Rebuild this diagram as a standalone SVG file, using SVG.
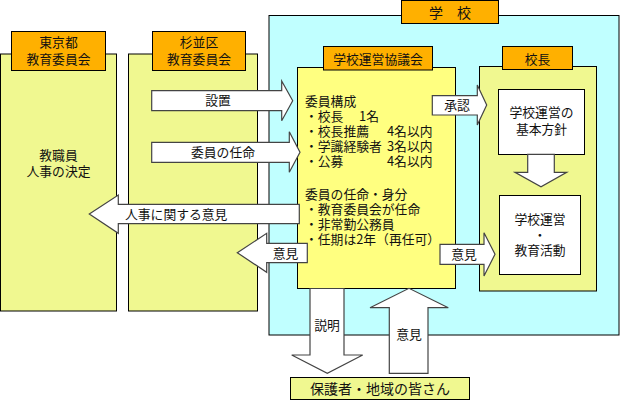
<svg xmlns="http://www.w3.org/2000/svg" width="620" height="400" viewBox="0 0 620 400">
<style>
text{font-family:"Noto Sans CJK JP","Noto Sans CJK SC",sans-serif;font-size:12.8px;fill:#111}
.c{text-anchor:middle}
.lbl{fill:#FFB000;stroke:#000;stroke-width:1}
.pnl{fill:#F0F890;stroke:#000;stroke-width:1}
.wht{fill:#fff;stroke:#000;stroke-width:1}
.arr{fill:#fff;stroke:#444;stroke-width:1.2;stroke-linejoin:miter}
</style>
<rect x="0" y="0" width="620" height="400" fill="#fff"/>
<g id="tokyo">
<rect class="pnl" x="0.5" y="54" width="116" height="257"/>
<rect class="lbl" x="11.5" y="31.5" width="94" height="39"/>
<text class="c" x="58.5" y="47">東京都</text>
<text class="c" x="58.5" y="64">教育委員会</text>
<text class="c" x="58.5" y="160">教職員</text>
<text class="c" x="58.5" y="176">人事の決定</text>
</g>
<g id="suginami">
<rect class="pnl" x="128.5" y="54" width="129" height="257"/>
<rect class="lbl" x="152.5" y="31.5" width="93" height="39"/>
<text class="c" x="199" y="47">杉並区</text>
<text class="c" x="199" y="64">教育委員会</text>
</g>
<g id="school">
<rect x="269" y="15.5" width="350" height="319.5" fill="#C0FFFF" stroke="#000"/>
<rect class="lbl" x="401.5" y="0.5" width="97" height="23"/>
<text class="c" x="450" y="18" style="font-size:14px">学　校</text>
</g>
<g id="council">
<rect x="297.5" y="67.5" width="158" height="221" fill="#FFFF80" stroke="#000"/>
<rect class="lbl" x="323.5" y="46.5" width="109" height="23.5"/>
<text class="c" x="378" y="63.5">学校運営協議会</text>
<text x="305" y="106">委員構成</text>
<text x="305" y="121">・校長　 1名</text>
<text x="305" y="136">・校長推薦</text>
<text x="305" y="151">・学識経験者</text>
<text x="305" y="166">・公募</text>
<text x="387" y="136">4名以内</text>
<text x="387" y="151">3名以内</text>
<text x="387" y="166">4名以内</text>
<text x="305" y="199">委員の任命・身分</text>
<text x="305" y="214">・教育委員会が任命</text>
<text x="305" y="229">・非常勤公務員</text>
<text x="305" y="244">・任期は2年（再任可）</text>
</g>
<g id="principal">
<rect class="pnl" x="479.5" y="66.5" width="117" height="224.5"/>
<rect class="lbl" x="502.5" y="46.5" width="70" height="23"/>
<text class="c" x="537.5" y="63.5">校長</text>
</g>
<g id="policy">
<rect class="wht" x="498.5" y="89.5" width="86" height="65"/>
<text class="c" x="541.5" y="117">学校運営の</text>
<text class="c" x="541.5" y="133.5">基本方針</text>
</g>
<g id="activity">
<rect class="wht" x="499.5" y="195.5" width="81" height="79"/>
<text class="c" x="540" y="224">学校運営</text>
<text class="c" x="540" y="240">・</text>
<text class="c" x="540" y="255">教育活動</text>
</g>
<g id="guardians">
<rect class="pnl" x="290.5" y="377.5" width="179" height="22"/>
<text class="c" x="380" y="394" style="font-size:14px">保護者・地域の皆さん</text>
</g>
<g id="connectors">
<polygon class="arr" points="151.7,90.7 281.7,90.7 281.7,81 292.7,100.7 281.7,120.7 281.7,110.7 151.7,110.7"/>
<text class="c" x="218" y="105">設置</text>
<polygon class="arr" points="151.7,142.3 289.3,142.3 289.3,131.7 300,152.3 289.3,172.3 289.3,162.3 151.7,162.3"/>
<text class="c" x="223" y="157">委員の任命</text>
<polygon class="arr" points="299.3,204.3 118.3,204.3 118.3,195 89.3,214 118.3,233.3 118.3,223.7 299.3,223.7"/>
<text x="125" y="218.5">人事に関する意見</text>
<polygon class="arr" points="307.3,243.3 266.7,243.3 266.7,233.3 237.3,252.7 266.7,272.3 266.7,262.7 307.3,262.7"/>
<text class="c" x="285.5" y="257.5">意見</text>
<polygon class="arr" points="432.3,95.7 477.3,95.7 477.3,85 486.7,105 477.3,125 477.3,115 432.3,115"/>
<text class="c" x="457" y="110">承認</text>
<polygon class="arr" points="440,244.3 484,244.3 484,232.7 495,254.3 484,276 484,264.3 440,264.3"/>
<text class="c" x="464" y="259">意見</text>
<polygon class="arr" points="527.7,154.3 554.3,154.3 554.3,172.3 566.7,172.3 541,186.7 515,172.3 527.7,172.3"/>
<polygon class="arr" points="310,288.5 344,288.5 344,355 362.7,355 327.3,373.3 291.7,355 310,355"/>
<text class="c" x="327" y="330">説明</text>
<polygon class="arr" points="389.3,373.3 428,373.3 428,307.7 448.3,307.7 409,288.3 370,307.7 389.3,307.7"/>
<text class="c" x="409" y="339">意見</text>
</g>
</svg>
